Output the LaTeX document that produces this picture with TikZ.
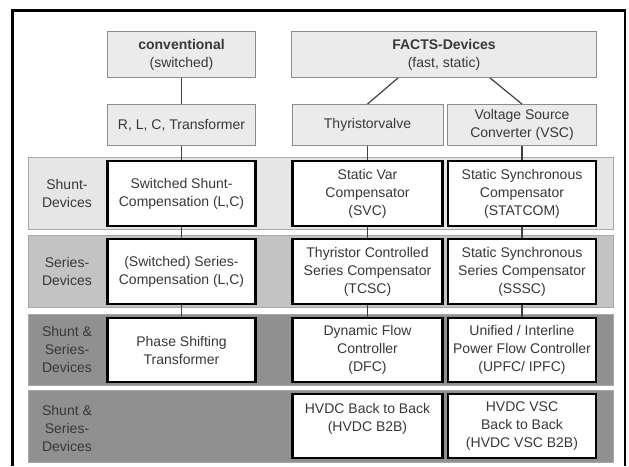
\documentclass[tikz,border=0pt]{standalone}
\usepackage{fontspec}
\setmainfont{Liberation Sans}
\definecolor{topfill}{HTML}{EBEBEB}
\definecolor{topline}{HTML}{8C8C8C}
\definecolor{bandA}{HTML}{E6E6E6}
\definecolor{bandB}{HTML}{C3C3C3}
\definecolor{bandC}{HTML}{909090}
\definecolor{bandline}{HTML}{A8A8A8}
\definecolor{txtgray}{HTML}{383838}
\definecolor{wiregray}{HTML}{404040}
\begin{document}
\begin{tikzpicture}[x=1pt,y=-1pt,
    every node/.style={font=\fontsize{14}{18}\selectfont, text=txtgray, align=center, inner sep=0pt},
    topbox/.style={draw=topline, fill=topfill, line width=0.9pt, minimum height=41pt},
    devbox/.style={draw=black, fill=white, line width=2.4pt, minimum height=65pt},
    band/.style={draw=bandline, line width=0.8pt},
    wire/.style={draw=wiregray, line width=1.2pt}]
    \useasboundingbox[fill=white] (0,0) rectangle (629,466);
    \draw[line width=2.5pt] (12.5,466) |- (625,10.5) -- (625,466);

    \draw[band, fill=bandA] (28,157) rectangle (613,229);
    \draw[band, fill=bandB] (28,235) rectangle (613,307);
    \draw[band, fill=bandC] (28,314) rectangle (613,385);
    \draw[band, fill=bandC] (28,390) rectangle (613,462);

    \node (lshunt) at (67,193) {Shunt-\\Devices};
    \node (lseries) at (67,271) {Series-\\Devices};
    \node (lboth) at (67,349.5) {Shunt \&\\Series-\\Devices};
    \node (lhvdc) at (67,428) {Shunt \&\\Series-\\Devices};

    \node (conv) at (181.5,54.5) [topbox, minimum width=148pt, minimum height=46pt] {\textbf{conventional}\\(switched)};
    \node (facts) at (444,54.5) [topbox, minimum width=305pt, minimum height=46pt] {\textbf{FACTS-Devices}\\(fast, static)};
    \node (rlc) at (181.5,125) [topbox, minimum width=148pt] {R, L, C, Transformer};
    \node (thyr) at (367.5,125) [topbox, minimum width=151pt] {Thyristorvalve};
    \node (vsc) at (522,125) [topbox, minimum width=149pt] {Voltage Source\\Converter (VSC)};

    \node (swshunt) at (181.5,193.5) [devbox, minimum width=148pt] {Switched Shunt-\\Compensation (L,C)};
    \node (svc) at (367.5,193.5) [devbox, minimum width=150pt] {Static Var\\Compensator\\(SVC)};
    \node (statcom) at (522,193.5) [devbox, minimum width=148pt] {Static Synchronous\\Compensator\\(STATCOM)};

    \node (swseries) at (181.5,271.5) [devbox, minimum width=148pt] {(Switched) Series-\\Compensation (L,C)};
    \node (tcsc) at (367.5,271.5) [devbox, minimum width=150pt] {Thyristor Controlled\\Series Compensator\\(TCSC)};
    \node (sssc) at (522,271.5) [devbox, minimum width=148pt] {Static Synchronous\\Series Compensator\\(SSSC)};

    \node (pst) at (181.5,350) [devbox, minimum width=148pt, minimum height=64pt] {Phase Shifting\\Transformer};
    \node (dfc) at (367.5,350) [devbox, minimum width=150pt, minimum height=64pt] {Dynamic Flow\\Controller\\(DFC)};
    \node (upfc) at (522,350) [devbox, minimum width=148pt, minimum height=64pt] {Unified / Interline\\Power Flow Controller\\(UPFC/ IPFC)};

    \node (b2b) at (367.5,426) [devbox, minimum width=150pt, minimum height=64pt] {HVDC Back to Back\\(HVDC B2B)\\\mbox{}};
    \node (vscb2b) at (522,426) [devbox, minimum width=148pt, minimum height=64pt] {HVDC VSC\\Back to Back\\(HVDC VSC B2B)};

    \draw[wire] (conv) -- (rlc);
    \draw[wire] ([xshift=-46pt]facts.south) -- (thyr.north);
    \draw[wire] ([xshift=46pt]facts.south) -- (vsc.north);
    \draw[wire] (rlc) -- (swshunt);
    \draw[wire] (swshunt) -- (swseries);
    \draw[wire] (swseries) -- (pst);
    \draw[wire] (thyr) -- (svc);
    \draw[wire] (svc) -- (tcsc);
    \draw[wire] (tcsc) -- (dfc);
    \draw[wire] (vsc) -- (statcom);
    \draw[wire] (statcom) -- (sssc);
    \draw[wire] (sssc) -- (upfc);
\end{tikzpicture}
\end{document}
